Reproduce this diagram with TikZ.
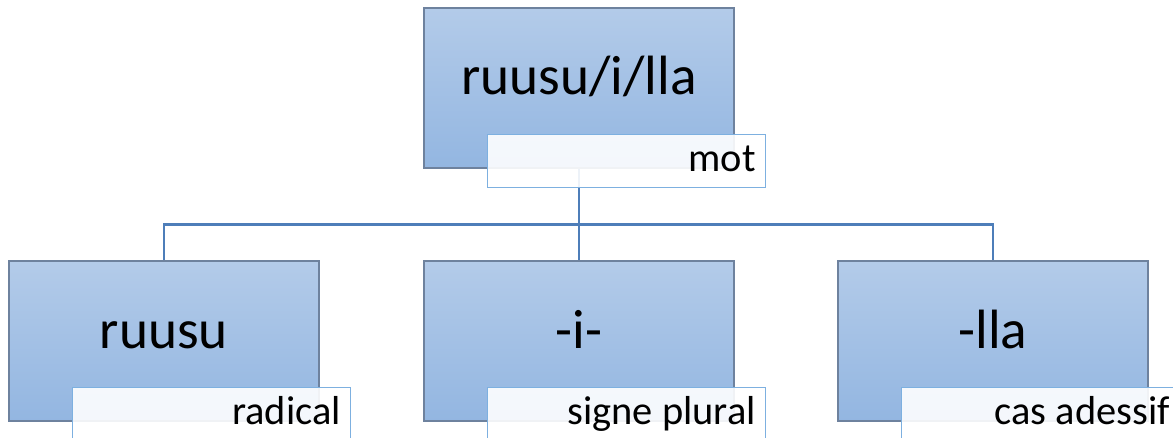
\documentclass[tikz,border=0pt]{standalone}
\usepackage{fontspec}
\setmainfont{Carlito}
\definecolor{boxtop}{HTML}{B3CBE9}
\definecolor{boxbottom}{HTML}{93B6E1}
\definecolor{boxline}{HTML}{6E829E}
\definecolor{tagline}{HTML}{7DB0E0}
\definecolor{treeline}{HTML}{4E7EB9}
\begin{document}
\begin{tikzpicture}[
  morph/.style={rectangle,draw=boxline,line width=0.6pt,
        top color=boxtop,bottom color=boxbottom,
        minimum width=6.2cm,minimum height=3.2cm,
        text height=0.8cm,text depth=0.52cm,
        font=\fontsize{31.5}{32}\selectfont},
  tag/.style={rectangle,draw=tagline,line width=0.8pt,
        fill=white,fill opacity=0.9,text opacity=1,
        anchor=north west,
        text width=5.16cm,align=flush right,
        inner xsep=0.2cm,inner ysep=0pt,
        minimum height=1.06cm,
        text height=0.62cm,text depth=0.2cm,
        font=\fontsize{23}{24}\selectfont},
  branch/.style={draw=treeline,line width=1.6pt}]
  \useasboundingbox (0,0) rectangle (23.46,8.74);
  % word and its three parts
  \node[morph] (top) at (11.58,6.98) {ruusu/i/lla};
  \node[morph] (ruusu) at (3.28,1.92) {ruusu};
  \node[morph] (plural) at (11.58,1.92) {-i-};
  \node[morph] (adessif) at (19.86,1.92) {-lla};
  % tree
  \coordinate (bus) at ([yshift=-1.12cm]top.south);
  \draw[branch] (top.south) -- (bus) -| (ruusu.north);
  \draw[branch] (bus) -| (adessif.north);
  \draw[branch] (bus) -- (plural.north);
  % tags
  \node[tag] (toptag)
     at ([shift={(1.27,0.69)}]top.south west) {mot};
  \node[tag] (ruusutag)
     at ([shift={(1.27,0.69)}]ruusu.south west) {radical};
  \node[tag] (pluraltag)
     at ([shift={(1.27,0.69)}]plural.south west) {signe plural};
  \node[tag] (adessiftag)
     at ([shift={(1.27,0.69)}]adessif.south west) {cas adessif};
\end{tikzpicture}
\end{document}
